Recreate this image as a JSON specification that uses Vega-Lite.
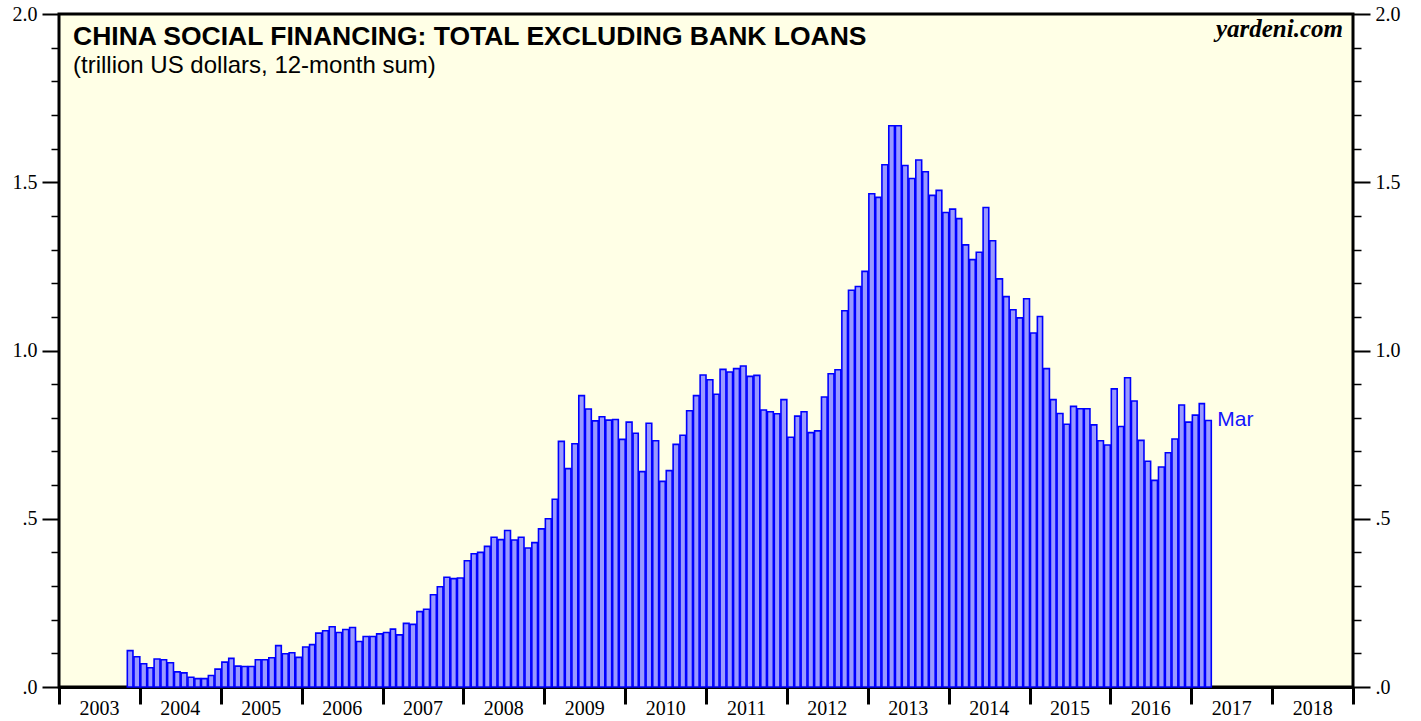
{
  "$schema": "https://vega.github.io/schema/vega-lite/v6.json",
  "width": 1294,
  "height": 673,
  "autosize": {"type": "none"},
  "padding": {"left": 59, "top": 14, "right": 68, "bottom": 34},
  "background": "white",
  "config": {"view": {"fill": "#FFFFE6", "stroke": "black", "strokeWidth": 3}},
  "title": {
    "text": "CHINA SOCIAL FINANCING: TOTAL EXCLUDING BANK LOANS",
    "subtitle": "(trillion US dollars, 12-month sum)",
    "anchor": "start", "frame": "group", "offset": -74, "dx": 14,
    "font": "Liberation Sans", "fontSize": 26.5, "fontWeight": "bold", "color": "black",
    "subtitleFont": "Liberation Sans", "subtitleFontSize": 24, "subtitleColor": "black", "subtitlePadding": 4
  },
  "datasets": {
    "sf": [
      {"date": "2003-11", "value": 0.108}, {"date": "2003-12", "value": 0.090},
      {"date": "2004-01", "value": 0.069}, {"date": "2004-02", "value": 0.057}, {"date": "2004-03", "value": 0.083}, {"date": "2004-04", "value": 0.081}, {"date": "2004-05", "value": 0.072}, {"date": "2004-06", "value": 0.045}, {"date": "2004-07", "value": 0.042}, {"date": "2004-08", "value": 0.029}, {"date": "2004-09", "value": 0.025}, {"date": "2004-10", "value": 0.025}, {"date": "2004-11", "value": 0.034}, {"date": "2004-12", "value": 0.053},
      {"date": "2005-01", "value": 0.074}, {"date": "2005-02", "value": 0.085}, {"date": "2005-03", "value": 0.062}, {"date": "2005-04", "value": 0.061}, {"date": "2005-05", "value": 0.061}, {"date": "2005-06", "value": 0.081}, {"date": "2005-07", "value": 0.081}, {"date": "2005-08", "value": 0.087}, {"date": "2005-09", "value": 0.123}, {"date": "2005-10", "value": 0.099}, {"date": "2005-11", "value": 0.102}, {"date": "2005-12", "value": 0.088},
      {"date": "2006-01", "value": 0.119}, {"date": "2006-02", "value": 0.126}, {"date": "2006-03", "value": 0.160}, {"date": "2006-04", "value": 0.167}, {"date": "2006-05", "value": 0.179}, {"date": "2006-06", "value": 0.162}, {"date": "2006-07", "value": 0.171}, {"date": "2006-08", "value": 0.177}, {"date": "2006-09", "value": 0.135}, {"date": "2006-10", "value": 0.150}, {"date": "2006-11", "value": 0.150}, {"date": "2006-12", "value": 0.158},
      {"date": "2007-01", "value": 0.162}, {"date": "2007-02", "value": 0.172}, {"date": "2007-03", "value": 0.155}, {"date": "2007-04", "value": 0.189}, {"date": "2007-05", "value": 0.186}, {"date": "2007-06", "value": 0.224}, {"date": "2007-07", "value": 0.231}, {"date": "2007-08", "value": 0.274}, {"date": "2007-09", "value": 0.298}, {"date": "2007-10", "value": 0.326}, {"date": "2007-11", "value": 0.322}, {"date": "2007-12", "value": 0.324},
      {"date": "2008-01", "value": 0.375}, {"date": "2008-02", "value": 0.396}, {"date": "2008-03", "value": 0.400}, {"date": "2008-04", "value": 0.418}, {"date": "2008-05", "value": 0.445}, {"date": "2008-06", "value": 0.438}, {"date": "2008-07", "value": 0.465}, {"date": "2008-08", "value": 0.437}, {"date": "2008-09", "value": 0.445}, {"date": "2008-10", "value": 0.413}, {"date": "2008-11", "value": 0.429}, {"date": "2008-12", "value": 0.470},
      {"date": "2009-01", "value": 0.500}, {"date": "2009-02", "value": 0.558}, {"date": "2009-03", "value": 0.730}, {"date": "2009-04", "value": 0.649}, {"date": "2009-05", "value": 0.723}, {"date": "2009-06", "value": 0.866}, {"date": "2009-07", "value": 0.826}, {"date": "2009-08", "value": 0.791}, {"date": "2009-09", "value": 0.803}, {"date": "2009-10", "value": 0.793}, {"date": "2009-11", "value": 0.795}, {"date": "2009-12", "value": 0.736},
      {"date": "2010-01", "value": 0.787}, {"date": "2010-02", "value": 0.754}, {"date": "2010-03", "value": 0.640}, {"date": "2010-04", "value": 0.784}, {"date": "2010-05", "value": 0.732}, {"date": "2010-06", "value": 0.611}, {"date": "2010-07", "value": 0.643}, {"date": "2010-08", "value": 0.721}, {"date": "2010-09", "value": 0.748}, {"date": "2010-10", "value": 0.821}, {"date": "2010-11", "value": 0.866}, {"date": "2010-12", "value": 0.927},
      {"date": "2011-01", "value": 0.913}, {"date": "2011-02", "value": 0.870}, {"date": "2011-03", "value": 0.944}, {"date": "2011-04", "value": 0.936}, {"date": "2011-05", "value": 0.946}, {"date": "2011-06", "value": 0.954}, {"date": "2011-07", "value": 0.923}, {"date": "2011-08", "value": 0.926}, {"date": "2011-09", "value": 0.823}, {"date": "2011-10", "value": 0.818}, {"date": "2011-11", "value": 0.812}, {"date": "2011-12", "value": 0.854},
      {"date": "2012-01", "value": 0.742}, {"date": "2012-02", "value": 0.805}, {"date": "2012-03", "value": 0.818}, {"date": "2012-04", "value": 0.756}, {"date": "2012-05", "value": 0.761}, {"date": "2012-06", "value": 0.862}, {"date": "2012-07", "value": 0.931}, {"date": "2012-08", "value": 0.943}, {"date": "2012-09", "value": 1.118}, {"date": "2012-10", "value": 1.179}, {"date": "2012-11", "value": 1.190}, {"date": "2012-12", "value": 1.235},
      {"date": "2013-01", "value": 1.466}, {"date": "2013-02", "value": 1.455}, {"date": "2013-03", "value": 1.552}, {"date": "2013-04", "value": 1.668}, {"date": "2013-05", "value": 1.668}, {"date": "2013-06", "value": 1.550}, {"date": "2013-07", "value": 1.511}, {"date": "2013-08", "value": 1.566}, {"date": "2013-09", "value": 1.531}, {"date": "2013-10", "value": 1.461}, {"date": "2013-11", "value": 1.476}, {"date": "2013-12", "value": 1.410},
      {"date": "2014-01", "value": 1.420}, {"date": "2014-02", "value": 1.392}, {"date": "2014-03", "value": 1.314}, {"date": "2014-04", "value": 1.270}, {"date": "2014-05", "value": 1.292}, {"date": "2014-06", "value": 1.425}, {"date": "2014-07", "value": 1.326}, {"date": "2014-08", "value": 1.213}, {"date": "2014-09", "value": 1.160}, {"date": "2014-10", "value": 1.121}, {"date": "2014-11", "value": 1.097}, {"date": "2014-12", "value": 1.154},
      {"date": "2015-01", "value": 1.052}, {"date": "2015-02", "value": 1.101}, {"date": "2015-03", "value": 0.946}, {"date": "2015-04", "value": 0.854}, {"date": "2015-05", "value": 0.813}, {"date": "2015-06", "value": 0.781}, {"date": "2015-07", "value": 0.834}, {"date": "2015-08", "value": 0.827}, {"date": "2015-09", "value": 0.827}, {"date": "2015-10", "value": 0.779}, {"date": "2015-11", "value": 0.732}, {"date": "2015-12", "value": 0.719},
      {"date": "2016-01", "value": 0.886}, {"date": "2016-02", "value": 0.774}, {"date": "2016-03", "value": 0.919}, {"date": "2016-04", "value": 0.850}, {"date": "2016-05", "value": 0.733}, {"date": "2016-06", "value": 0.671}, {"date": "2016-07", "value": 0.614}, {"date": "2016-08", "value": 0.654}, {"date": "2016-09", "value": 0.696}, {"date": "2016-10", "value": 0.737}, {"date": "2016-11", "value": 0.838}, {"date": "2016-12", "value": 0.787},
      {"date": "2017-01", "value": 0.808}, {"date": "2017-02", "value": 0.842}, {"date": "2017-03", "value": 0.792}
    ],
    "ticks": [
      {"value": 0.0}, {"value": 0.1}, {"value": 0.2}, {"value": 0.3}, {"value": 0.4}, {"value": 0.5}, {"value": 0.6}, {"value": 0.7}, {"value": 0.8}, {"value": 0.9}, {"value": 1.0},
      {"value": 1.1}, {"value": 1.2}, {"value": 1.3}, {"value": 1.4}, {"value": 1.5}, {"value": 1.6}, {"value": 1.7}, {"value": 1.8}, {"value": 1.9}, {"value": 2.0}
    ],
    "notes": [
      {"date": "2017-03", "value": 0.792, "label": "Mar"}
    ],
    "credit": [
      {"date": "2019-01", "value": 2.0, "label": "yardeni.com"}
    ]
  },
  "layer": [
    {
      "data": {"name": "sf"},
      "mark": {"type": "bar", "fill": "#9999FF", "stroke": "#0000FF", "strokeWidth": 1.6},
      "encoding": {
        "x": {
          "field": "date", "timeUnit": "utcyearmonth", "type": "temporal",
          "scale": {"domain": [{"year": 2003, "month": 1, "date": 1, "utc": true}, {"year": 2019, "month": 1, "date": 1, "utc": true}]},
          "axis": {
            "orient": "bottom", "title": null, "grid": false,
            "tickCount": {"interval": "year", "step": 1},
            "labelExpr": "utcyear(datum.value) >= 2019 ? '' : '' + utcyear(datum.value)",
            "labelOffset": 40, "labelAlign": "center", "labelBaseline": "alphabetic",
            "labelPadding": 10, "labelFont": "Liberation Serif", "labelFontSize": 20, "labelColor": "black",
            "labelOverlap": false, "labelFlush": false, "labelBound": false,
            "tickSize": 17, "tickWidth": 3, "tickColor": "black",
            "domain": true, "domainColor": "black", "domainWidth": 3
          }
        },
        "y": {
          "field": "value", "type": "quantitative",
          "scale": {"domain": [0, 2], "nice": false},
          "axis": {
            "orient": "left", "title": null, "grid": false, "domain": false,
            "values": [0, 0.5, 1, 1.5, 2],
            "labelExpr": "datum.value < 1 ? '.' + format(datum.value * 10, 'd') : format(datum.value, '.1f')",
            "labelFont": "Liberation Serif", "labelFontSize": 20, "labelColor": "black", "labelPadding": 5,
            "tickSize": 17, "tickWidth": 2, "tickColor": "black"
          }
        }
      }
    },
    {
      "data": {"name": "ticks"},
      "mark": {"type": "rule", "opacity": 0},
      "encoding": {
        "y": {
          "field": "value", "type": "quantitative",
          "axis": {"orient": "left", "title": null, "grid": false, "domain": false, "labels": false,
                   "values": [0.1, 0.2, 0.3, 0.4, 0.6, 0.7, 0.8, 0.9, 1.1, 1.2, 1.3, 1.4, 1.6, 1.7, 1.8, 1.9],
                   "tickSize": 8, "tickWidth": 1.5, "tickColor": "black"}
        }
      }
    },
    {
      "data": {"name": "ticks"},
      "mark": {"type": "rule", "opacity": 0},
      "encoding": {
        "y": {
          "field": "value", "type": "quantitative",
          "axis": {
            "orient": "right", "title": null, "grid": false, "domain": false,
            "values": [0, 0.5, 1, 1.5, 2],
            "labelExpr": "datum.value < 1 ? '.' + format(datum.value * 10, 'd') : format(datum.value, '.1f')",
            "labelFont": "Liberation Serif", "labelFontSize": 20, "labelColor": "black", "labelPadding": 5,
            "tickSize": 17, "tickWidth": 2, "tickColor": "black"
          }
        }
      }
    },
    {
      "data": {"name": "ticks"},
      "mark": {"type": "rule", "opacity": 0},
      "encoding": {
        "y": {
          "field": "value", "type": "quantitative",
          "axis": {"orient": "right", "title": null, "grid": false, "domain": false, "labels": false,
                   "values": [0.1, 0.2, 0.3, 0.4, 0.6, 0.7, 0.8, 0.9, 1.1, 1.2, 1.3, 1.4, 1.6, 1.7, 1.8, 1.9],
                   "tickSize": 8, "tickWidth": 1.5, "tickColor": "black"}
        }
      }
    },
    {
      "data": {"name": "notes"},
      "mark": {"type": "text", "align": "left", "baseline": "middle", "dx": 6, "font": "Liberation Sans", "fontSize": 21, "color": "#1414FF"},
      "encoding": {
        "x": {"field": "date", "timeUnit": "utcyearmonth", "type": "temporal", "bandPosition": 1, "axis": null},
        "y": {"field": "value", "type": "quantitative", "axis": null},
        "text": {"field": "label"}
      }
    },
    {
      "data": {"name": "credit"},
      "mark": {"type": "text", "align": "right", "baseline": "alphabetic", "dx": -10, "dy": 23, "font": "Liberation Serif", "fontSize": 25, "fontWeight": "bold", "fontStyle": "italic", "color": "black"},
      "encoding": {
        "x": {"field": "date", "timeUnit": "utcyearmonth", "type": "temporal", "axis": null},
        "y": {"field": "value", "type": "quantitative", "axis": null},
        "text": {"field": "label"}
      }
    }
  ],
  "resolve": {"axis": {"x": "independent", "y": "independent"}}
}
